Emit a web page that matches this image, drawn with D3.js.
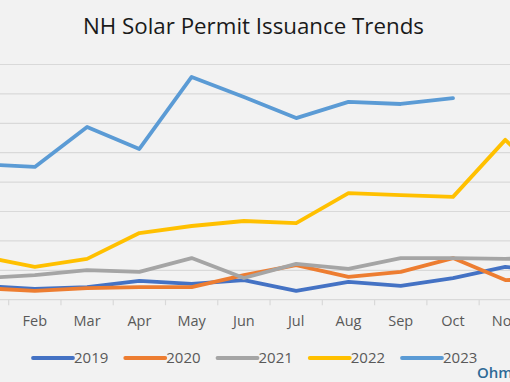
<!DOCTYPE html>
<html><head><meta charset="utf-8">
<script src="https://cdn.jsdelivr.net/npm/d3@7/dist/d3.min.js"></script>
<style>
html,body{margin:0;padding:0;background:#f2f2f2;overflow:hidden;}
svg{display:block;}
</style></head>
<body>
<script>
const months = ["Jan","Feb","Mar","Apr","May","Jun","Jul","Aug","Sep","Oct","Nov","Dec"];
const years = ["2019","2020","2021","2022","2023"];
const s2019 = [45,35,41,62,52,65,28,59,45,72,110,93];
const s2020 = [38,28,38,41,41,82,116,76,93,140,65,69];
const s2021 = [72,82,99,93,140,72,120,103,140,140,137,144];
const s2022 = [145,110,137,225,249,266,259,361,354,348,542,371];
const s2023 = [459,450,586,511,756,688,616,671,664,684,null,null];
const seriesValues = [s2019,s2020,s2021,s2022,s2023];
const colors = ["#4472c4","#ed7d31","#a5a5a5","#ffc000","#5b9bd5"];
const yTicks = [0,100,200,300,400,500,600,700,800];
const title = "NH Solar Permit Issuance Trends";

const W = 510, H = 382;
const svg = d3.select("body").append("svg").attr("width", W).attr("height", H);
svg.append("rect").attr("width", W).attr("height", H).attr("fill", "#f2f2f2");

const x = d3.scaleBand().domain(months).range([-43.6, 583.7]).paddingInner(0).paddingOuter(0);
const y = d3.scaleLinear().domain([0, 800]).range([299.2, 64]);

// gridlines
const grid = svg.append("g").attr("transform", "translate(-43.6,0)")
  .call(d3.axisLeft(y).tickValues(yTicks).tickSize(-(583.7 + 43.6)).tickFormat(""));
grid.select(".domain").remove();
grid.selectAll(".tick line").attr("stroke", "#d9d9d9").attr("stroke-width", 1.2);

// x axis labels
const xa = svg.append("g").attr("transform", `translate(0,${y(0)})`)
  .call(d3.axisBottom(x).tickSize(0).tickPadding(16.2));
xa.select(".domain").remove();
xa.selectAll("text").attr("font-family", "'Open Sans', sans-serif").attr("font-size", 14.5).attr("fill", "#595959");

// tick marks at band edges
const edges = months.map(m => x(m)).concat([x(months[months.length-1]) + x.bandwidth()]);
svg.append("g").selectAll("line").data(edges).join("line")
  .attr("x1", d => d).attr("x2", d => d)
  .attr("y1", y(0)).attr("y2", y(0) + 6)
  .attr("stroke", "#d9d9d9").attr("stroke-width", 1.2);

// lines
const line = d3.line()
  .defined(d => d.v !== null)
  .x(d => x(d.m) + x.bandwidth() / 2)
  .y(d => y(d.v));
years.forEach((yr, i) => {
  const data = months.map((m, j) => ({m, v: seriesValues[i][j]}));
  svg.append("path").datum(data)
    .attr("d", line)
    .attr("fill", "none")
    .attr("stroke", colors[i])
    .attr("stroke-width", 3.8)
    .attr("stroke-linejoin", "round")
    .attr("stroke-linecap", "round");
});

// title
svg.append("text").text(title)
  .attr("x", 253.5).attr("y", 33.5)
  .attr("text-anchor", "middle")
  .attr("font-family", "'Open Sans', sans-serif")
  .attr("font-size", 21)
  .attr("fill", "#1a1a1a")
  .attr("textLength", 341).attr("lengthAdjust", "spacingAndGlyphs");

// legend
const legendX = d3.scalePoint().domain(years).range([33, 402]);
const lg = svg.append("g").selectAll("g").data(years).join("g")
  .attr("transform", d => `translate(${legendX(d)},358)`);
lg.append("line").attr("x1", 0).attr("x2", 40).attr("y1", 0).attr("y2", 0)
  .attr("stroke", (d, i) => colors[i]).attr("stroke-width", 3.8).attr("stroke-linecap", "round");
lg.append("text").text(d => d).attr("x", 41).attr("dy", "0.35em")
  .attr("font-family", "'Open Sans', sans-serif").attr("font-size", 15).attr("fill", "#595959");

// watermark
svg.append("text").text("Ohm")
  .attr("x", 477).attr("y", 378)
  .attr("font-family", "'Open Sans', sans-serif").attr("font-size", 15).attr("font-weight", 600)
  .attr("fill", "#2e6a96");
</script>
</body></html>
